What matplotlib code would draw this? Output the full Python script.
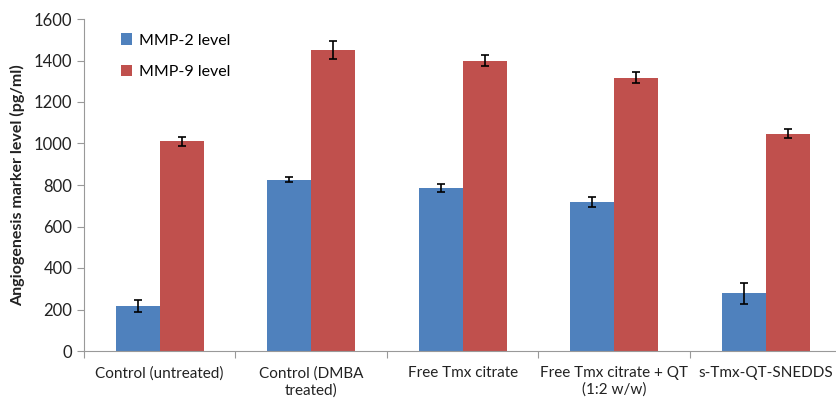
import numpy as np
import matplotlib
matplotlib.use("Agg")
import matplotlib.pyplot as plt

# Data
#
categories = [
    "Control (untreated)",
    "Control (DMBA\ntreated)",
    "Free Tmx citrate",
    "Free Tmx citrate + QT\n(1:2 w/w)",
    "s-Tmx-QT-SNEDDS",
]
mmp2 = [218, 825, 785, 718, 278]
mmp2_err = [29, 12, 18, 25, 50]
mmp9 = [1010, 1450, 1400, 1318, 1048]
mmp9_err = [20, 45, 25, 25, 20]

plt.rcParams["font.family"] = ["Lato", "DejaVu Sans"]

fig = plt.figure(figsize=(8.37, 3.98), dpi=100)
ax = fig.add_axes([84 / 837, 1 - 351 / 398, 757.5 / 837, 332 / 398])

x = np.arange(len(categories))
w = 0.29
ax.bar(x - w / 2, mmp2, w, yerr=mmp2_err, color="#4F81BD", label="MMP-2 level",
       error_kw=dict(ecolor="black", elinewidth=1.2, capsize=3, capthick=1.2))
ax.bar(x + w / 2, mmp9, w, yerr=mmp9_err, color="#C0504D", label="MMP-9 level",
       error_kw=dict(ecolor="black", elinewidth=1.2, capsize=3, capthick=1.2))

ax.set_xlim(-0.5, len(categories) - 0.5)
ax.set_ylim(0, 1600)
ax.set_yticks(range(0, 1601, 200))

# Category ticks sit between groups, labels centred under groups
#
ax.set_xticks(np.arange(len(categories) + 1) - 0.5)
ax.set_xticklabels([])
ax.set_xticks(x, minor=True)
ax.set_xticklabels(categories, minor=True, fontsize=11, color="#222222")
ax.tick_params(axis="x", which="minor", length=0, pad=11)
ax.tick_params(axis="x", which="major", length=5, color="#999999", direction="out")
ax.tick_params(axis="y", length=5, color="#999999", labelsize=12, labelcolor="#222222")

for side in ["top", "right"]:
    ax.spines[side].set_visible(False)
for side in ["left", "bottom"]:
    ax.spines[side].set_color("#999999")

ax.set_ylabel("Angiogenesis marker level (pg/ml)", fontsize=11.5, fontweight="bold",
              color="#222222", labelpad=6)

ax.legend(loc="upper left", bbox_to_anchor=(0.03, 1.0), frameon=False, fontsize=11.5,
          handlelength=0.7, handleheight=0.7, labelspacing=1.1, handletextpad=0.4)

fig.savefig("out.png", dpi=100, facecolor="white")
plt.close(fig)
